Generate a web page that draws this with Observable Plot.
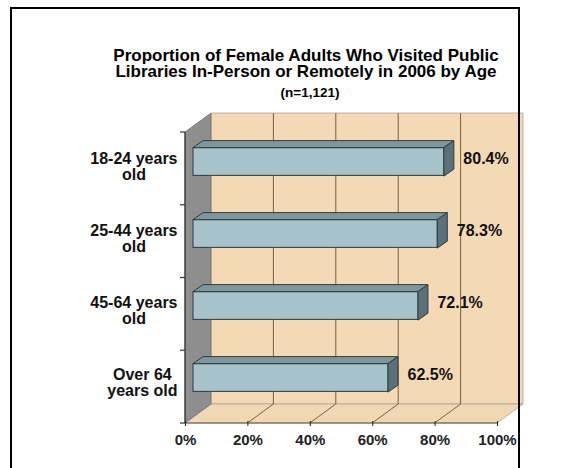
<!DOCTYPE html>
<html><head><meta charset="utf-8">
<script src="https://cdn.jsdelivr.net/npm/d3@7"></script>
<script src="https://cdn.jsdelivr.net/npm/@observablehq/plot@0.6"></script>
<style>
body{margin:0;background:#fff;font-family:"Liberation Sans",Arial,sans-serif;}
#wrap{position:relative;width:577px;height:468px;overflow:hidden;background:#fff;}
.t{position:absolute;left:106px;width:400px;text-align:center;font-weight:bold;color:#000;white-space:nowrap;}
#t1a{top:47.5px;font-size:17px;line-height:16.6px;height:16.6px;}
#t1b{top:64.1px;font-size:17px;line-height:16.6px;height:16.6px;}
#t2{top:86px;left:110px;font-size:13.5px;line-height:14px;}
#chart{position:absolute;left:0;top:100px;}
#frame{position:absolute;left:10px;top:7px;width:506px;height:520px;border:2px solid #000;}
</style></head>
<body><div id="wrap">
<div id="t1a" class="t">Proportion of Female Adults Who Visited Public</div>
<div id="t1b" class="t">Libraries In-Person or Remotely in 2006 by Age</div>
<div id="t2" class="t">(n=1,121)</div>
<div id="chart"></div>
<div id="frame"></div>
</div>
<script>
// ---- data ----
const ageGroups = ["18-24 years\nold", "25-44 years\nold", "45-64 years\nold", "Over 64\nyears old"];
const shares = [80.4, 78.3, 72.1, 62.5];
const xTicks = [0, 20, 40, 60, 80, 100];
const gridValues = [20, 40, 60, 80];

// ---- layout / style ----
const W = 577, H = 368, mT = 30, mB = 47, mL = 185, mR = 80;
const step = (H - mT - mB) / ageGroups.length;
const DX = 26, DY = -19;          // chart depth
const BDX = 8, BDY = -6.5, BH = 28.5; // bar front-face offset and height
const SX = 10, SY = -7;           // bar depth
const wallColor = "#f4d9b7", floorColor = "#f2d7b4", sideWall = "#8e8e8e";
const gridColor = "#76603f";
const barFront = "#a7c2ca", barTop = "#7e979f", barSide = "#5b7179", barStroke = "#2c3b40";
const FONT = "'Liberation Sans', Arial, sans-serif";

const rows = ageGroups.map((age, i) => ({age, share: shares[i]}));

function walls(index, scales) {
  const {x, y} = scales;
  const X0 = x(0), X1 = x(100);
  const YT = y(ageGroups[0]);
  const YB = YT + step * ageGroups.length;
  const g = d3.create("svg:g");
  const poly = (pts, fill, stroke, sw) => g.append("polygon")
    .attr("points", pts.map(p => p.join(",")).join(" "))
    .attr("fill", fill).attr("stroke", stroke || "none").attr("stroke-width", sw || 1)
    .attr("stroke-linejoin", "round");
  const line = (x1, y1, x2, y2, stroke, sw) => g.append("line")
    .attr("x1", x1).attr("y1", y1).attr("x2", x2).attr("y2", y2)
    .attr("stroke", stroke).attr("stroke-width", sw || 1);
  poly([[X0 + DX, YT + DY], [X1 + DX, YT + DY], [X1 + DX, YB + DY], [X0 + DX, YB + DY]], wallColor, "#b5a48d", 0.8);
  poly([[X0, YB], [X1, YB], [X1 + DX, YB + DY], [X0 + DX, YB + DY]], floorColor, "#a8a39b", 0.8);
  for (const v of gridValues) {
    line(x(v) + DX, YT + DY, x(v) + DX, YB + DY, gridColor, 1);
    line(x(v), YB, x(v) + DX, YB + DY, gridColor, 1);
  }
  poly([[X0, YT], [X0 + DX, YT + DY], [X0 + DX, YB + DY], [X0, YB]], sideWall, "#707070", 0.8);
  line(X0, YT, X0, YB, "#333", 1.2);
  line(X0, YB, X1, YB, "#555", 1.2);
  for (let i = 0; i <= ageGroups.length; i++) {
    line(X0 - 5, YT + i * step, X0, YT + i * step, "#333", 1.2);
  }
  return g.node();
}

function barFaces(index, scales) {
  const {x, y} = scales;
  const g = d3.create("svg:g");
  rows.forEach(r => {
    const xf0 = x(0) + BDX, xf1 = x(r.share) + BDX;
    const yc = y(r.age) + step / 2 + BDY;
    const t = yc - BH / 2, b = yc + BH / 2;
    g.append("polygon")
      .attr("points", [[xf0, t], [xf1, t], [xf1 + SX, t + SY], [xf0 + SX, t + SY]].map(p => p.join(",")).join(" "))
      .attr("fill", barTop).attr("stroke", barStroke).attr("stroke-width", 1).attr("stroke-linejoin", "round");
    g.append("polygon")
      .attr("points", [[xf1, t], [xf1 + SX, t + SY], [xf1 + SX, b + SY], [xf1, b]].map(p => p.join(",")).join(" "))
      .attr("fill", barSide).attr("stroke", barStroke).attr("stroke-width", 1).attr("stroke-linejoin", "round");
  });
  return g.node();
}

// measure category labels to centre each line block against the axis
const ctx = document.createElement("canvas").getContext("2d");
ctx.font = "bold 16px 'Liberation Sans'";
const labelMarks = ageGroups.map(age => {
  const w = Math.max(...age.split("\n").map(s => ctx.measureText(s).width));
  return Plot.text([age], {
    y: d => d, text: d => d, frameAnchor: "left", textAnchor: "middle",
    dx: -(8 + w / 2), dy: -1.5, lineHeight: 1.02,
    fontSize: 16, fontWeight: "bold", fill: "#111"
  });
});

const chart = Plot.plot({
  width: W, height: H,
  marginTop: mT, marginBottom: mB, marginLeft: mL, marginRight: mR,
  style: {fontFamily: FONT, fontSize: "15px", fontWeight: "bold", background: "transparent", overflow: "visible"},
  x: {domain: [0, 100]},
  y: {domain: ageGroups, padding: 0, axis: null},
  marks: [
    walls,
    Plot.barX(rows, {
      x: "share", y: "age", dx: BDX, dy: BDY,
      insetTop: (step - BH) / 2, insetBottom: (step - BH) / 2,
      fill: barFront, stroke: barStroke, strokeWidth: 1
    }),
    barFaces,
    Plot.text(rows, {
      x: "share", y: "age", text: d => d.share.toFixed(1) + "%",
      textAnchor: "start", dx: 27, dy: -10,
      fontSize: 16, fontWeight: "bold", fill: "#111"
    }),
    ...labelMarks,
    Plot.axisX({
      ticks: xTicks, tickFormat: d => d + "%", tickSize: 5, tickPadding: 8,
      fontSize: 15, fontWeight: "bold", color: "#222", label: null
    })
  ]
});
document.getElementById("chart").appendChild(chart);
</script>
</body></html>
